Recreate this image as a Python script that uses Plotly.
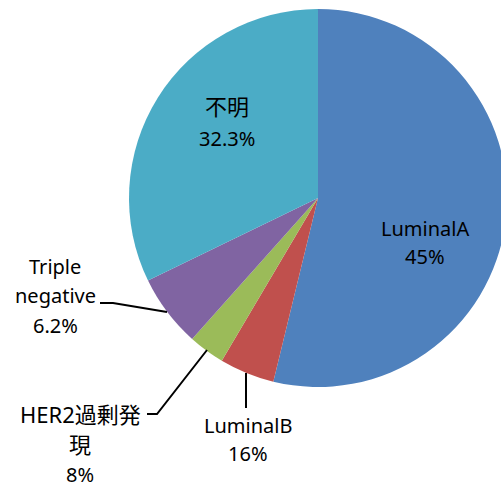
import plotly.graph_objects as go

W, H = 508, 483  # figure a little wider than the 501px window; the pie runs off the right edge

categories = ["LuminalA", "LuminalB", "HER2過剰発現", "Triple negative", "不明"]
values = [53.8, 4.7, 3.1, 6.2, 32.2]
colors = ["#4F81BD", "#C0504D", "#9BBB59", "#8064A2", "#4BACC6"]

# Printed label lines for each slice
label_lines = [
    ["LuminalA", "45%"],
    ["LuminalB", "16%"],
    ["HER2過剰発", "現", "8%"],
    ["Triple", "negative", "6.2%"],
    ["不明", "32.3%"],
]
# label anchor (centre of the first line) in pixels, and line spacing
label_pos = [(425, 228), (248, 425), (80, 414), (55, 266), (227, 106)]
line_gap = [28, 28, 30, 29.5, 32]

# Leader lines (pixel polylines)
leaders = [
    None,
    [(246, 408), (246, 373)],
    [(147, 414), (157, 414), (207, 350)],
    [(100, 303), (113, 303), (167, 312)],
    None,
]

FONT = "Noto Sans, Noto Sans CJK JP, sans-serif"

# pie circle: centre (318,198), radius 189
cx, cy, r = 318, 198, 189

fig = go.Figure(
    go.Pie(
        labels=categories,
        values=values,
        sort=False,
        direction="clockwise",
        rotation=0,
        marker=dict(colors=colors, line=dict(width=0)),
        textinfo="none",
        hoverinfo="label+percent",
        showlegend=False,
        domain=dict(x=[(cx - r) / W, min(1.0, (cx + r) / W)],
                    y=[(H - (cy + r)) / H, (H - (cy - r)) / H]),
    )
)

def px(x):
    return x / W

def py(y):
    return 1 - y / H

def has_cjk(s):
    return any(ord(ch) > 0x2E80 for ch in s)

annotations = []
for lines, (x0, y0), gap in zip(label_lines, label_pos, line_gap):
    for i, t in enumerate(lines):
        annotations.append(
            dict(
                x=px(x0), y=py(y0 + i * gap), xref="paper", yref="paper",
                text=t, showarrow=False, xanchor="center", yanchor="middle",
                font=dict(family=FONT, size=22 if has_cjk(t) else 20,
                          color="#000000"),
            )
        )

shapes = []
for pts in leaders:
    if not pts:
        continue
    path = "M " + " L ".join(f"{px(x)},{py(y)}" for x, y in pts)
    shapes.append(
        dict(type="path", xref="paper", yref="paper", path=path,
             line=dict(color="#000000", width=2))
    )

fig.update_layout(
    width=W, height=H,
    margin=dict(l=0, r=0, t=0, b=0),
    paper_bgcolor="white",
    plot_bgcolor="white",
    annotations=annotations,
    shapes=shapes,
)

fig.write_html(
    "out.html",
    config={"displayModeBar": False},
    post_script="document.body.style.margin='0';"
                "document.documentElement.style.overflow='hidden';"
                "document.body.style.overflow='hidden';",
)
